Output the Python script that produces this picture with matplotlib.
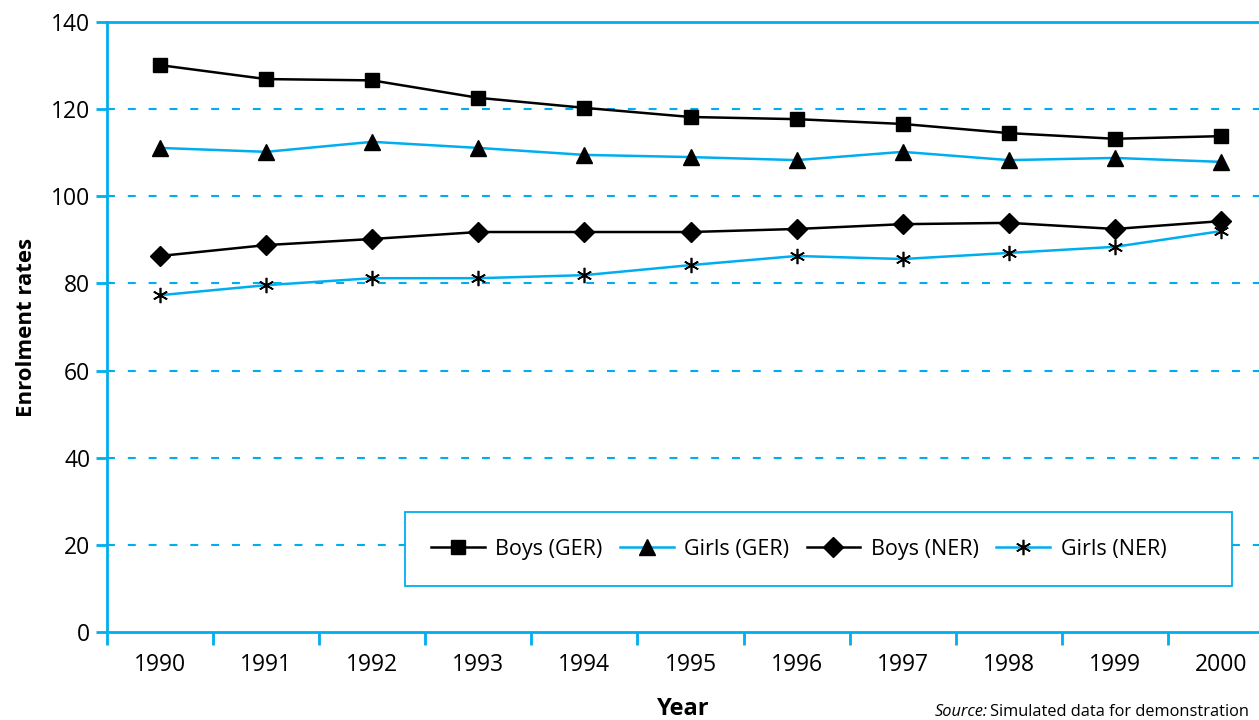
import matplotlib
matplotlib.use("Agg")
import matplotlib.pyplot as plt
from matplotlib.patches import Rectangle
from matplotlib.ticker import FixedLocator

plt.rcParams['font.family'] = ['Open Sans', 'DejaVu Sans']

CYAN = '#00AEEF'

years = ['1990', '1991', '1992', '1993', '1994', '1995', '1996', '1997', '1998', '1999', '2000']
boys_ger = [130.1, 126.9, 126.6, 122.6, 120.3, 118.2, 117.7, 116.6, 114.5, 113.2, 113.8]
girls_ger = [111.1, 110.2, 112.5, 111.1, 109.5, 109.0, 108.3, 110.2, 108.3, 108.8, 107.9]
boys_ner = [86.3, 88.8, 90.2, 91.8, 91.8, 91.8, 92.5, 93.6, 93.9, 92.5, 94.3]
girls_ner = [77.3, 79.6, 81.2, 81.2, 81.9, 84.2, 86.3, 85.6, 87.0, 88.4, 92.0]
y_ticks = [0, 20, 40, 60, 80, 100, 120, 140]

fig = plt.figure(figsize=(12.59, 7.2), dpi=100)
# axes run past the right edge, as in the original
ax = fig.add_axes([107 / 1259, 88 / 720, 1167 / 1259, 610 / 720])

x = list(range(len(years)))

# gridlines
for v in y_ticks[1:-1]:
    ax.axhline(v, color=CYAN, lw=1.5, ls=(0, (3.8, 6.2)), zorder=1)

ax.plot(x, boys_ger, color='black', lw=1.8, marker='s', ms=10,
        mfc='black', mec='black', label='Boys (GER)', zorder=3)
ax.plot(x, girls_ger, color=CYAN, lw=1.8, marker='^', ms=12,
        mfc='black', mec='black', label='Girls (GER)', zorder=3)
ax.plot(x, boys_ner, color='black', lw=1.8, marker='D', ms=10,
        mfc='black', mec='black', label='Boys (NER)', zorder=3)
ax.plot(x, girls_ner, color=CYAN, lw=1.8, marker=(6, 2, 0), ms=11,
        mfc='black', mec='black', mew=1.2, label='Girls (NER)', zorder=3)

ax.set_xlim(-0.5, 10.5)
ax.set_ylim(0, 140)

for side in ['left', 'bottom', 'top', 'right']:
    ax.spines[side].set_color(CYAN)
    ax.spines[side].set_linewidth(2)

ax.set_xticks(x)
ax.set_xticklabels(years)
ax.xaxis.set_minor_locator(FixedLocator([i - 0.5 for i in range(len(years) + 1)]))
ax.tick_params(axis='x', which='major', length=0, pad=15, labelsize=16.5)
ax.tick_params(axis='x', which='minor', length=9, width=2, color=CYAN, direction='out')
ax.set_yticks(y_ticks)
ax.tick_params(axis='y', length=8, width=2, color=CYAN, direction='out', labelsize=16.5, pad=4)

ax.set_ylabel('Enrolment rates', fontsize=16, fontweight='bold', labelpad=10)
fig.text(683 / 1259, 11 / 720, 'Year', fontsize=17, fontweight='bold', ha='center', va='center')

# legend with its own cyan box
ax.add_patch(Rectangle((0.255, 0.075), 0.709, 0.122, transform=ax.transAxes,
                       fill=True, facecolor='white', edgecolor=CYAN, lw=1.3, zorder=4))
leg = ax.legend(loc='center left', bbox_to_anchor=(0.27, 0.136), ncol=4, frameon=False,
                fontsize=15.5, handlelength=2.5, handletextpad=0.5, columnspacing=0.8,
                borderaxespad=0)
leg.set_zorder(5)

fig.text(935 / 1259, 4 / 720, 'Source:', fontsize=11.8, style='italic', ha='left', va='baseline')
fig.text(990 / 1259, 4 / 720, 'Simulated data for demonstration', fontsize=11.8,
         ha='left', va='baseline')

fig.savefig('out.png', dpi=100)
